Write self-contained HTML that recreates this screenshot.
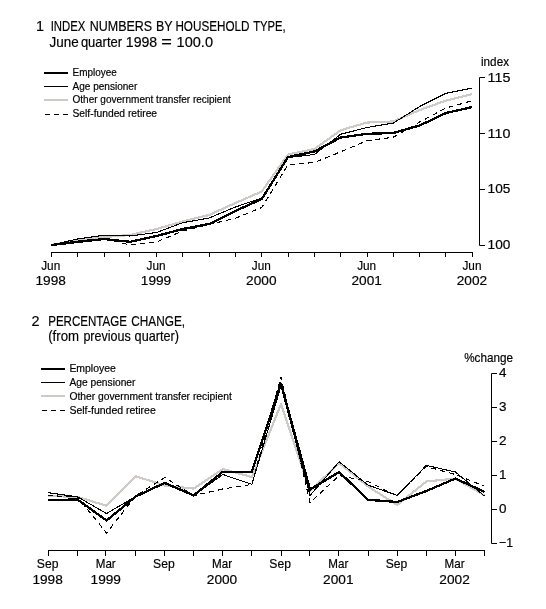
<!DOCTYPE html>
<html><head><meta charset="utf-8"><style>
html,body{margin:0;padding:0;background:#fff;}
svg{display:block;will-change:transform;}
text{font-family:"Liberation Sans",sans-serif;fill:#000;stroke:#000;stroke-width:0.18px;}
</style></head><body>
<svg width="546" height="609" viewBox="0 0 546 609">
<rect width="546" height="609" fill="#fff"/>
<text x="36" y="31" font-size="14.4" text-anchor="start">1</text>
<text x="50.699999999999996" y="31" font-size="14.4" text-anchor="start" textLength="34.7" lengthAdjust="spacingAndGlyphs">INDEX</text>
<text x="89.7" y="31" font-size="14.4" text-anchor="start" textLength="62.5" lengthAdjust="spacingAndGlyphs">NUMBERS</text>
<text x="156.0" y="31" font-size="14.4" text-anchor="start" textLength="16.6" lengthAdjust="spacingAndGlyphs">BY</text>
<text x="175.4" y="31" font-size="14.4" text-anchor="start" textLength="74.1" lengthAdjust="spacingAndGlyphs">HOUSEHOLD</text>
<text x="253.20000000000002" y="31" font-size="14.4" text-anchor="start" textLength="32.5" lengthAdjust="spacingAndGlyphs">TYPE,</text>
<text x="49.6" y="46.5" font-size="14.4" text-anchor="start" textLength="29.2" lengthAdjust="spacingAndGlyphs">June</text>
<text x="80.9" y="46.5" font-size="14.4" text-anchor="start" textLength="41.2" lengthAdjust="spacingAndGlyphs">quarter</text>
<text x="125.80000000000001" y="46.5" font-size="14.4" text-anchor="start" textLength="31.4" lengthAdjust="spacingAndGlyphs">1998</text>
<text x="161.20000000000002" y="46.5" font-size="14.4" text-anchor="start" textLength="10.6" lengthAdjust="spacingAndGlyphs">=</text>
<text x="176.6" y="46.5" font-size="14.4" text-anchor="start" textLength="36.4" lengthAdjust="spacingAndGlyphs">100.0</text>
<line x1="44" y1="73" x2="68" y2="73" stroke="#000" stroke-width="2"/>
<line x1="44" y1="86.5" x2="68" y2="86.5" stroke="#000" stroke-width="1"/>
<line x1="44" y1="100" x2="68" y2="100" stroke="#cecac7" stroke-width="2"/>
<line x1="45" y1="114.5" x2="68" y2="114.5" stroke="#000" stroke-width="1.1" stroke-dasharray="5 4" shape-rendering="crispEdges"/>
<text x="72.5" y="76" font-size="10" text-anchor="start" textLength="44.2" lengthAdjust="spacingAndGlyphs">Employee</text>
<text x="72.5" y="89.5" font-size="10" text-anchor="start" textLength="64.8" lengthAdjust="spacingAndGlyphs">Age pensioner</text>
<text x="72.5" y="103" font-size="10" text-anchor="start" textLength="158.3" lengthAdjust="spacingAndGlyphs">Other government transfer recipient</text>
<text x="72.5" y="117" font-size="10" text-anchor="start" textLength="84.6" lengthAdjust="spacingAndGlyphs">Self-funded retiree</text>
<path d="M485,77.5 H479.5 V245.5 H485" fill="none" stroke="#000" stroke-width="1"/>
<line x1="479.5" y1="133.5" x2="485" y2="133.5" stroke="#000" stroke-width="1"/>
<line x1="479.5" y1="189.5" x2="485" y2="189.5" stroke="#000" stroke-width="1"/>
<text x="487.6" y="81.8" font-size="12.8" text-anchor="start" textLength="22.8" lengthAdjust="spacingAndGlyphs">115</text>
<text x="487.6" y="137.5" font-size="12.8" text-anchor="start" textLength="22.8" lengthAdjust="spacingAndGlyphs">110</text>
<text x="487.6" y="193.3" font-size="12.8" text-anchor="start" textLength="22.8" lengthAdjust="spacingAndGlyphs">105</text>
<text x="487.6" y="249.3" font-size="12.8" text-anchor="start" textLength="22.8" lengthAdjust="spacingAndGlyphs">100</text>
<text x="481" y="65.6" font-size="12" text-anchor="start" textLength="28" lengthAdjust="spacingAndGlyphs">index</text>
<line x1="51" y1="252.5" x2="473" y2="252.5" stroke="#000" stroke-width="1"/>
<line x1="51.5" y1="252.5" x2="51.5" y2="257" stroke="#000" stroke-width="1"/>
<line x1="77.5" y1="252.5" x2="77.5" y2="257" stroke="#000" stroke-width="1"/>
<line x1="104.5" y1="252.5" x2="104.5" y2="257" stroke="#000" stroke-width="1"/>
<line x1="129.5" y1="252.5" x2="129.5" y2="257" stroke="#000" stroke-width="1"/>
<line x1="156.5" y1="252.5" x2="156.5" y2="257" stroke="#000" stroke-width="1"/>
<line x1="182.5" y1="252.5" x2="182.5" y2="257" stroke="#000" stroke-width="1"/>
<line x1="209.5" y1="252.5" x2="209.5" y2="257" stroke="#000" stroke-width="1"/>
<line x1="235.5" y1="252.5" x2="235.5" y2="257" stroke="#000" stroke-width="1"/>
<line x1="261.5" y1="252.5" x2="261.5" y2="257" stroke="#000" stroke-width="1"/>
<line x1="288.5" y1="252.5" x2="288.5" y2="257" stroke="#000" stroke-width="1"/>
<line x1="314.5" y1="252.5" x2="314.5" y2="257" stroke="#000" stroke-width="1"/>
<line x1="340.5" y1="252.5" x2="340.5" y2="257" stroke="#000" stroke-width="1"/>
<line x1="367.5" y1="252.5" x2="367.5" y2="257" stroke="#000" stroke-width="1"/>
<line x1="393.5" y1="252.5" x2="393.5" y2="257" stroke="#000" stroke-width="1"/>
<line x1="419.5" y1="252.5" x2="419.5" y2="257" stroke="#000" stroke-width="1"/>
<line x1="445.5" y1="252.5" x2="445.5" y2="257" stroke="#000" stroke-width="1"/>
<line x1="472.5" y1="252.5" x2="472.5" y2="257" stroke="#000" stroke-width="1"/>
<text x="50.7" y="270" font-size="12.8" text-anchor="middle" textLength="19" lengthAdjust="spacingAndGlyphs">Jun</text>
<text x="50.7" y="285.2" font-size="12.8" text-anchor="middle" textLength="30.4" lengthAdjust="spacingAndGlyphs">1998</text>
<text x="156.01999999999998" y="270" font-size="12.8" text-anchor="middle" textLength="19" lengthAdjust="spacingAndGlyphs">Jun</text>
<text x="156.01999999999998" y="285.2" font-size="12.8" text-anchor="middle" textLength="30.4" lengthAdjust="spacingAndGlyphs">1999</text>
<text x="261.34000000000003" y="270" font-size="12.8" text-anchor="middle" textLength="19" lengthAdjust="spacingAndGlyphs">Jun</text>
<text x="261.34000000000003" y="285.2" font-size="12.8" text-anchor="middle" textLength="30.4" lengthAdjust="spacingAndGlyphs">2000</text>
<text x="366.66" y="270" font-size="12.8" text-anchor="middle" textLength="19" lengthAdjust="spacingAndGlyphs">Jun</text>
<text x="366.66" y="285.2" font-size="12.8" text-anchor="middle" textLength="30.4" lengthAdjust="spacingAndGlyphs">2001</text>
<text x="471.98" y="270" font-size="12.8" text-anchor="middle" textLength="19" lengthAdjust="spacingAndGlyphs">Jun</text>
<text x="471.98" y="285.2" font-size="12.8" text-anchor="middle" textLength="30.4" lengthAdjust="spacingAndGlyphs">2002</text>
<polyline points="51.10,245.00 77.43,240.50 103.76,237.00 130.09,235.00 156.42,229.00 182.75,221.50 209.08,215.00 235.41,203.00 261.74,191.50 288.07,154.50 314.40,149.00 340.73,130.20 367.06,122.50 393.39,121.50 419.72,110.00 446.05,100.60 472.38,94.00" fill="none" stroke="#cecac7" stroke-width="2.2" stroke-linejoin="round" shape-rendering="crispEdges"/>
<polyline points="51.10,245.00 77.43,241.00 103.76,238.50 130.09,245.00 156.42,242.00 182.75,231.00 209.08,224.50 235.41,218.30 261.74,207.50 288.07,164.70 314.40,162.50 340.73,151.80 367.06,140.70 393.39,137.20 419.72,122.00 446.05,108.00 472.38,100.60" fill="none" stroke="#000" stroke-width="1.1" stroke-dasharray="5 4" shape-rendering="crispEdges"/>
<polyline points="51.10,245.00 77.43,239.00 103.76,235.20 130.09,236.00 156.42,232.50 182.75,222.70 209.08,218.00 235.41,207.00 261.74,198.00 288.07,157.50 314.40,154.50 340.73,134.20 367.06,127.50 393.39,123.00 419.72,106.50 446.05,93.30 472.38,88.00" fill="none" stroke="#000" stroke-width="1.1" stroke-linejoin="round" shape-rendering="crispEdges"/>
<polyline points="51.10,245.00 77.43,242.00 103.76,239.00 130.09,241.80 156.42,236.00 182.75,229.00 209.08,224.00 235.41,211.00 261.74,199.00 288.07,157.00 314.40,151.50 340.73,137.50 367.06,133.80 393.39,133.00 419.72,125.50 446.05,113.00 472.38,107.00" fill="none" stroke="#000" stroke-width="2.3" stroke-linejoin="round" shape-rendering="crispEdges"/>
<text x="31.5" y="325.6" font-size="14.4" text-anchor="start">2</text>
<text x="48.199999999999996" y="325.6" font-size="14.4" text-anchor="start" textLength="78.8" lengthAdjust="spacingAndGlyphs">PERCENTAGE</text>
<text x="131.3" y="325.6" font-size="14.4" text-anchor="start" textLength="53.8" lengthAdjust="spacingAndGlyphs">CHANGE,</text>
<text x="48.199999999999996" y="341.3" font-size="14.4" text-anchor="start" textLength="30.9" lengthAdjust="spacingAndGlyphs">(from</text>
<text x="83.4" y="341.3" font-size="14.4" text-anchor="start" textLength="47.4" lengthAdjust="spacingAndGlyphs">previous</text>
<text x="134.6" y="341.3" font-size="14.4" text-anchor="start" textLength="44.4" lengthAdjust="spacingAndGlyphs">quarter)</text>
<line x1="41" y1="369" x2="65" y2="369" stroke="#000" stroke-width="2"/>
<line x1="41" y1="382.5" x2="65" y2="382.5" stroke="#000" stroke-width="1"/>
<line x1="41" y1="396" x2="65" y2="396" stroke="#cecac7" stroke-width="2"/>
<line x1="42" y1="410.5" x2="65" y2="410.5" stroke="#000" stroke-width="1.1" stroke-dasharray="5 4" shape-rendering="crispEdges"/>
<text x="69.4" y="371.8" font-size="10" text-anchor="start" textLength="46.4" lengthAdjust="spacingAndGlyphs">Employee</text>
<text x="69.4" y="386" font-size="10" text-anchor="start" textLength="66.1" lengthAdjust="spacingAndGlyphs">Age pensioner</text>
<text x="69.4" y="400.2" font-size="10" text-anchor="start" textLength="162.4" lengthAdjust="spacingAndGlyphs">Other government transfer recipient</text>
<text x="69.4" y="413.6" font-size="10" text-anchor="start" textLength="86.4" lengthAdjust="spacingAndGlyphs">Self-funded retiree</text>
<path d="M497,373.5 H491.5 V543.5 H497" fill="none" stroke="#000" stroke-width="1"/>
<line x1="491.5" y1="407.5" x2="497" y2="407.5" stroke="#000" stroke-width="1"/>
<line x1="491.5" y1="441.5" x2="497" y2="441.5" stroke="#000" stroke-width="1"/>
<line x1="491.5" y1="475.5" x2="497" y2="475.5" stroke="#000" stroke-width="1"/>
<line x1="491.5" y1="509.5" x2="497" y2="509.5" stroke="#000" stroke-width="1"/>
<text x="499" y="377" font-size="12.8" text-anchor="start" textLength="7.5" lengthAdjust="spacingAndGlyphs">4</text>
<text x="499" y="411" font-size="12.8" text-anchor="start" textLength="7.5" lengthAdjust="spacingAndGlyphs">3</text>
<text x="499" y="445" font-size="12.8" text-anchor="start" textLength="7.5" lengthAdjust="spacingAndGlyphs">2</text>
<text x="499" y="479" font-size="12.8" text-anchor="start" textLength="7.5" lengthAdjust="spacingAndGlyphs">1</text>
<text x="499" y="513" font-size="12.8" text-anchor="start" textLength="7.5" lengthAdjust="spacingAndGlyphs">0</text>
<text x="499" y="547" font-size="12.8" text-anchor="start" textLength="14" lengthAdjust="spacingAndGlyphs">−1</text>
<text x="464.2" y="362" font-size="12.6" text-anchor="start" textLength="48.8" lengthAdjust="spacingAndGlyphs">%change</text>
<line x1="48" y1="550.5" x2="485" y2="550.5" stroke="#000" stroke-width="1"/>
<line x1="48.5" y1="550.5" x2="48.5" y2="556" stroke="#000" stroke-width="1"/>
<line x1="77.5" y1="550.5" x2="77.5" y2="556" stroke="#000" stroke-width="1"/>
<line x1="105.5" y1="550.5" x2="105.5" y2="556" stroke="#000" stroke-width="1"/>
<line x1="135.5" y1="550.5" x2="135.5" y2="556" stroke="#000" stroke-width="1"/>
<line x1="164.5" y1="550.5" x2="164.5" y2="556" stroke="#000" stroke-width="1"/>
<line x1="193.5" y1="550.5" x2="193.5" y2="556" stroke="#000" stroke-width="1"/>
<line x1="222.5" y1="550.5" x2="222.5" y2="556" stroke="#000" stroke-width="1"/>
<line x1="251.5" y1="550.5" x2="251.5" y2="556" stroke="#000" stroke-width="1"/>
<line x1="281.5" y1="550.5" x2="281.5" y2="556" stroke="#000" stroke-width="1"/>
<line x1="309.5" y1="550.5" x2="309.5" y2="556" stroke="#000" stroke-width="1"/>
<line x1="338.5" y1="550.5" x2="338.5" y2="556" stroke="#000" stroke-width="1"/>
<line x1="368.5" y1="550.5" x2="368.5" y2="556" stroke="#000" stroke-width="1"/>
<line x1="397.5" y1="550.5" x2="397.5" y2="556" stroke="#000" stroke-width="1"/>
<line x1="426.5" y1="550.5" x2="426.5" y2="556" stroke="#000" stroke-width="1"/>
<line x1="455.5" y1="550.5" x2="455.5" y2="556" stroke="#000" stroke-width="1"/>
<line x1="484.5" y1="550.5" x2="484.5" y2="556" stroke="#000" stroke-width="1"/>
<text x="47.6" y="568" font-size="12.8" text-anchor="middle" textLength="21.6" lengthAdjust="spacingAndGlyphs">Sep</text>
<text x="47.6" y="584.4" font-size="12.8" text-anchor="middle" textLength="30.4" lengthAdjust="spacingAndGlyphs">1998</text>
<text x="105.74" y="568" font-size="12.8" text-anchor="middle" textLength="20" lengthAdjust="spacingAndGlyphs">Mar</text>
<text x="105.74" y="584.4" font-size="12.8" text-anchor="middle" textLength="30.4" lengthAdjust="spacingAndGlyphs">1999</text>
<text x="163.88" y="568" font-size="12.8" text-anchor="middle" textLength="21.6" lengthAdjust="spacingAndGlyphs">Sep</text>
<text x="222.02" y="568" font-size="12.8" text-anchor="middle" textLength="20" lengthAdjust="spacingAndGlyphs">Mar</text>
<text x="222.02" y="584.4" font-size="12.8" text-anchor="middle" textLength="30.4" lengthAdjust="spacingAndGlyphs">2000</text>
<text x="280.15999999999997" y="568" font-size="12.8" text-anchor="middle" textLength="21.6" lengthAdjust="spacingAndGlyphs">Sep</text>
<text x="338.29999999999995" y="568" font-size="12.8" text-anchor="middle" textLength="20" lengthAdjust="spacingAndGlyphs">Mar</text>
<text x="338.29999999999995" y="584.4" font-size="12.8" text-anchor="middle" textLength="30.4" lengthAdjust="spacingAndGlyphs">2001</text>
<text x="396.44" y="568" font-size="12.8" text-anchor="middle" textLength="21.6" lengthAdjust="spacingAndGlyphs">Sep</text>
<text x="454.58" y="568" font-size="12.8" text-anchor="middle" textLength="20" lengthAdjust="spacingAndGlyphs">Mar</text>
<text x="454.58" y="584.4" font-size="12.8" text-anchor="middle" textLength="30.4" lengthAdjust="spacingAndGlyphs">2002</text>
<polyline points="48.40,496.00 77.47,496.80 106.54,505.80 135.61,476.10 164.68,485.60 193.75,488.60 222.82,469.00 251.89,477.10 280.96,404.00 310.03,491.00 339.10,463.00 368.17,486.60 397.24,505.00 426.31,481.50 455.38,478.60 484.45,495.40" fill="none" stroke="#cecac7" stroke-width="2.2" stroke-linejoin="round" shape-rendering="crispEdges"/>
<polyline points="48.40,495.60 77.47,497.00 106.54,533.00 135.61,496.00 164.68,477.50 193.75,495.60 222.82,489.00 251.89,484.40 280.96,377.00 310.03,502.50 339.10,475.60 368.17,481.50 397.24,496.00 426.31,466.50 455.38,474.50 484.45,486.20" fill="none" stroke="#000" stroke-width="1.1" stroke-dasharray="5 4" shape-rendering="crispEdges"/>
<polyline points="48.40,492.70 77.47,496.80 106.54,513.50 135.61,496.60 164.68,482.90 193.75,495.40 222.82,474.50 251.89,484.40 280.96,386.00 310.03,495.50 339.10,461.80 368.17,485.20 397.24,495.40 426.31,465.40 455.38,472.00 484.45,496.00" fill="none" stroke="#000" stroke-width="1.1" stroke-linejoin="round" shape-rendering="crispEdges"/>
<polyline points="48.40,500.00 77.47,499.50 106.54,520.50 135.61,496.60 164.68,482.90 193.75,495.40 222.82,471.70 251.89,471.70 280.96,383.50 310.03,489.50 339.10,472.00 368.17,499.80 397.24,502.00 426.31,491.00 455.38,478.60 484.45,491.80" fill="none" stroke="#000" stroke-width="2.3" stroke-linejoin="round" shape-rendering="crispEdges"/>
</svg>
</body></html>
